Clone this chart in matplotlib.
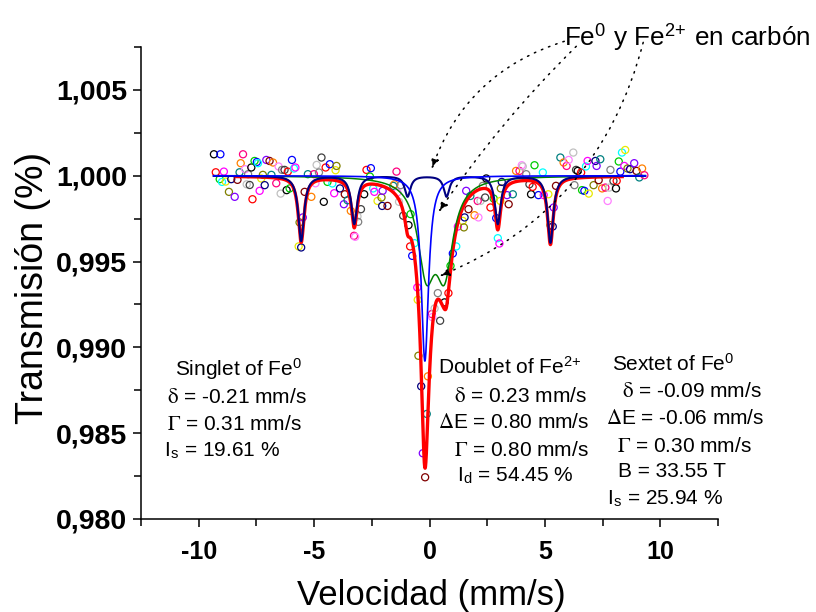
#!/usr/bin/env python3
"""Mossbauer spectrum of Fe in carbon: data points, sub-spectra and total fit."""

import matplotlib
matplotlib.use("Agg")
import matplotlib.pyplot as plt
import matplotlib.ticker as ticker
import numpy as np

plt.rcParams["font.family"] = ["Liberation Sans", "DejaVu Sans"]
plt.rcParams["mathtext.fontset"] = "stix"
plt.rcParams["axes.unicode_minus"] = False

# measured points (velocity in mm/s, relative transmission)
VELOCITY = [
    -9.34, -9.26, -9.09, -9.06, -8.99, -8.91, -8.83, -8.69, -8.59, -8.44,
    -8.32, -8.23, -8.18, -8.08, -7.99, -7.92, -7.86, -7.79, -7.72, -7.67,
    -7.58, -7.48, -7.43, -7.36, -7.29, -7.22, -7.14, -7.07, -6.93, -6.85,
    -6.78, -6.64, -6.54, -6.45, -6.39, -6.28, -6.19, -6.14, -6.06, -5.96,
    -5.87, -5.81, -5.67, -5.63, -5.56, -5.49, -5.41, -5.27, -5.12, -5.01,
    -4.94, -4.89, -4.79, -4.68, -4.58, -4.50, -4.42, -4.32, -4.21, -4.13,
    -4.07, -4.03, -3.88, -3.71, -3.67, -3.55, -3.41, -3.27, -3.22, -3.12,
    -3.09, -2.97, -2.83, -2.73, -2.58, -2.54, -2.44, -2.39, -2.25, -2.08,
    -2.05, -2.03, -1.82, -1.57, -1.52, -1.43, -1.39, -1.32, -1.25, -1.14,
    -0.91, -0.84, -0.82, -0.75, -0.65, -0.53, -0.51, -0.48, -0.36, -0.29,
    -0.19, -0.12, -0.07, 0.10, 0.12, 0.22, 0.36, 0.46, 0.65, 0.82,
    0.91, 1.01, 1.16, 1.23, 1.44, 1.49, 1.52, 1.59, 1.69, 1.77,
    1.95, 2.09, 2.12, 2.21, 2.31, 2.41, 2.46, 2.64, 2.78, 2.89,
    2.96, 3.03, 3.07, 3.09, 3.13, 3.36, 3.43, 3.61, 3.75, 3.90,
    4.00, 4.04, 4.19, 4.33, 4.40, 4.47, 4.55, 4.72, 4.91, 4.95,
    5.15, 5.24, 5.34, 5.38, 5.48, 5.67, 5.81, 5.94, 6.03, 6.23,
    6.28, 6.35, 6.42, 6.57, 6.61, 6.71, 6.78, 6.85, 6.90, 7.11,
    7.19, 7.24, 7.33, 7.40, 7.48, 7.62, 7.72, 7.79, 7.84, 7.97,
    8.08, 8.11, 8.20, 8.27, 8.34, 8.44, 8.48, 8.58, 8.69, 8.87,
    8.97, 9.09, 9.21, 9.31,
]
TRANSMISSION = [
    1.00125, 1.00020, 0.99980, 1.00125, 0.99964, 1.00024, 0.99966, 0.99906, 0.99980, 0.99877,
    0.99976, 1.00020, 1.00073, 1.00125, 1.00038, 0.99950, 1.00009, 0.99946, 1.00048, 0.99863,
    1.00086, 1.00080, 1.00073, 0.99912, 0.99984, 1.00005, 0.99945, 1.00092, 1.00086, 1.00005,
    1.00077, 0.99956, 1.00054, 0.99896, 1.00034, 1.00034, 0.99916, 1.00024, 0.99926, 1.00092,
    1.00042, 1.00048, 0.99588, 0.99728, 0.99582, 0.99757, 0.99906, 1.00009, 0.99877, 1.00009,
    0.99956, 1.00063, 1.00019, 1.00106, 0.99848, 1.00048, 0.99964, 1.00067, 0.99955, 0.99898,
    1.00032, 1.00057, 0.99926, 0.99834, 0.99892, 0.99857, 0.99795, 0.99650, 0.99644, 0.99763,
    0.99731, 0.99805, 0.99892, 1.00034, 0.99995, 1.00044, 0.99926, 0.99906, 0.99853, 0.99873,
    0.99824, 0.99912, 0.99824, 0.99941, 0.99950, 1.00024, 0.99902, 0.99848, 0.99945, 0.99767,
    0.99712, 0.99588, 0.99776, 0.99533, 0.99607, 0.99349, 0.99277, 0.98951, 0.98773, 0.98383,
    0.98243, 0.98612, 0.98831, 0.99194, 0.99176, 0.99227, 0.99316, 0.99155, 0.99262, 0.99316,
    0.99475, 0.99547, 0.99588, 0.99704, 0.99737, 0.99699, 0.99757, 0.99912, 0.99805, 0.99882,
    0.99770, 0.99853, 0.99757, 0.99853, 0.99941, 0.99873, 0.99984, 0.99815, 0.99867, 0.99753,
    0.99636, 0.99605, 0.99853, 0.99926, 0.99964, 0.99887, 0.99834, 0.99892, 1.00028, 1.00028,
    1.00061, 1.00054, 1.00009, 0.99950, 0.99892, 0.99935, 1.00061, 0.99887, 1.00019, 0.99887,
    0.99892, 0.99712, 0.99704, 0.99815, 0.99941, 1.00106, 1.00077, 1.00057, 1.00092, 1.00135,
    0.99945, 1.00034, 1.00028, 1.00019, 0.99916, 0.99912, 1.00054, 1.00086, 0.99896, 0.99945,
    1.00086, 1.00057, 0.99974, 1.00096, 0.99926, 0.99931, 0.99853, 0.99931, 1.00034, 0.99970,
    0.99926, 0.99970, 1.00083, 1.00024, 1.00135, 1.00057, 1.00150, 1.00042, 1.00038, 1.00073,
    1.00028, 0.99990, 1.00042, 1.00003,
]

# fitted sub-spectra: line centres (mm/s), depths, half widths
SEXTET_CENTRES = [-5.56, -3.26, -0.95, 0.74, 2.96, 5.24]
SEXTET_DEPTHS = [0.0038, 0.0028, 0.0012, 0.0012, 0.0028, 0.0039]
SEXTET_HWHM = 0.15
SINGLET_CENTRES = [-0.20]
SINGLET_DEPTHS = [0.0108]
SINGLET_HWHM = 0.19
DOUBLET_CENTRES = [-0.14, 0.65]
DOUBLET_DEPTHS = [0.0051, 0.0051]
DOUBLET_HWHM = 0.45
FIT_RANGE = (-9.35, 9.35)
TOTAL_RANGE = (-8.37, 8.35)

SINGLET_TEXT = [r"Singlet of Fe$^\mathregular{0}$",
                r"$\mathrm{\delta}$ = -0.21 mm/s",
                r"$\mathrm{\Gamma}$ = 0.31 mm/s",
                r"I$_\mathregular{s}$ = 19.61 %"]
DOUBLET_TEXT = [r"Doublet of Fe$^\mathregular{2{+}}$",
                r"$\mathrm{\delta}$ = 0.23 mm/s",
                r"$\mathrm{\Delta}$E = 0.80 mm/s",
                r"$\mathrm{\Gamma}$ = 0.80 mm/s",
                r"I$_\mathregular{d}$ = 54.45 %"]
SEXTET_TEXT = [r"Sextet of Fe$^\mathregular{0}$",
               r"$\mathrm{\delta}$ = -0.09 mm/s",
               r"$\mathrm{\Delta}$E = -0.06 mm/s",
               r"$\mathrm{\Gamma}$ = 0.30 mm/s",
               "B = 33.55 T",
               r"I$_\mathregular{s}$ = 25.94 %"]
HEADER_TEXT = r"Fe$^\mathregular{0}$ y Fe$^\mathregular{2{+}}$ en carbón"

# Origin-like point colour cycle
POINT_COLORS = ["#000000", "#FF0000", "#00CC00", "#0000FF", "#00FFFF", "#FF00FF",
                "#E8E800", "#808000", "#000080", "#8000FF", "#800000", "#008080",
                "#FF8000", "#FF0080", "#FF80FF", "#C0C0C0", "#808080", "#404040"]


def lorentz_dip(v, centres, depths, hwhm):
    dip = np.zeros_like(v)
    for c, d in zip(centres, depths):
        dip += d / (1.0 + ((v - c) / hwhm) ** 2)
    return dip


def main():
    fig = plt.figure(figsize=(8.16, 6.12), dpi=100)
    ax = fig.add_axes([0.1728, 0.152, 0.7071, 0.7712])

    colors = [POINT_COLORS[i % len(POINT_COLORS)] for i in range(len(VELOCITY))]
    ax.scatter(VELOCITY, TRANSMISSION, s=26, facecolors="none",
               edgecolors=colors, linewidths=0.9, zorder=1)

    v = np.linspace(FIT_RANGE[0], FIT_RANGE[1], 3000)
    sextet = lorentz_dip(v, SEXTET_CENTRES, SEXTET_DEPTHS, SEXTET_HWHM)
    singlet = lorentz_dip(v, SINGLET_CENTRES, SINGLET_DEPTHS, SINGLET_HWHM)
    doublet = lorentz_dip(v, DOUBLET_CENTRES, DOUBLET_DEPTHS, DOUBLET_HWHM)

    vt = np.linspace(TOTAL_RANGE[0], TOTAL_RANGE[1], 3000)
    total = (lorentz_dip(vt, SEXTET_CENTRES, SEXTET_DEPTHS, SEXTET_HWHM)
             + lorentz_dip(vt, SINGLET_CENTRES, SINGLET_DEPTHS, SINGLET_HWHM)
             + lorentz_dip(vt, DOUBLET_CENTRES, DOUBLET_DEPTHS, DOUBLET_HWHM))

    ax.plot(vt, 1 - total, color="#FF0000", lw=2.4, zorder=2)
    ax.plot(v, 1 - doublet, color="#008000", lw=1.1, zorder=3)
    ax.plot(v, 1 - sextet, color="#000080", lw=1.5, zorder=4)
    ax.plot(v, 1 - singlet, color="#0000FF", lw=1.2, zorder=5)

    # axes styling
    ax.set_xlim(-12.5, 12.5)
    ax.set_ylim(0.980, 1.0075)
    for side in ("top", "right"):
        ax.spines[side].set_visible(False)
    for side in ("left", "bottom"):
        ax.spines[side].set_linewidth(1.1)
    ax.xaxis.set_major_locator(ticker.MultipleLocator(5))
    ax.xaxis.set_minor_locator(ticker.MultipleLocator(2.5))
    ax.yaxis.set_major_locator(ticker.MultipleLocator(0.005))
    ax.yaxis.set_minor_locator(ticker.MultipleLocator(0.0025))
    ax.yaxis.set_major_formatter(ticker.FuncFormatter(lambda y, _: f"{y:.3f}".replace(".", ",")))
    ax.tick_params(which="both", direction="out", width=1.1)
    ax.tick_params(which="major", length=6)
    ax.tick_params(which="minor", length=5)
    ax.tick_params(axis="x", pad=9)
    ax.tick_params(axis="y", pad=4)
    for lab in ax.get_xticklabels():
        lab.set_fontweight("bold")
        lab.set_fontsize(18)
    for lab in ax.get_yticklabels():
        lab.set_fontweight("bold")
        lab.set_fontsize(20.5)

    ax.set_xlabel("Velocidad (mm/s)", fontsize=25)
    ax.set_ylabel("Transmisión (%)", fontsize=27)
    ax.xaxis.set_label_coords(0.504, -0.163)
    ax.xaxis.label.set_verticalalignment("center")
    ax.yaxis.set_label_coords(-0.187, 0.49)
    ax.yaxis.label.set_verticalalignment("center")

    # parameter blocks
    singlet_xy = [(-11.04, 0.98833), (-11.39, 0.98676), (-11.39, 0.98519), (-11.52, 0.98367)]
    doublet_xy = [(0.35, 0.98845), (1.08, 0.98682), (0.35, 0.98530), (1.08, 0.98367), (1.17, 0.98222)]
    sextet_xy = [(7.92, 0.98862), (8.35, 0.98711), (7.66, 0.98554), (8.14, 0.98391),
                 (8.18, 0.98245), (7.71, 0.98088)]
    for texts, pos in ((SINGLET_TEXT, singlet_xy), (DOUBLET_TEXT, doublet_xy), (SEXTET_TEXT, sextet_xy)):
        for s, (x, y) in zip(texts, pos):
            ax.text(x, y, s, fontsize=15, ha="left", va="baseline", zorder=6)

    # label with dotted arrows
    ax.text(5.84, 1.00758, HEADER_TEXT, fontsize=18.8, ha="left", va="baseline", clip_on=False)
    arrows = [((5.84, 1.00783), (0.09, 1.00038), 0.25),
              ((6.36, 1.00754), (0.39, 0.99788), 0.05),
              ((9.26, 1.00777), (0.43, 0.99415), -0.25)]
    for start, tip, rad in arrows:
        ax.annotate("", xy=tip, xytext=start, annotation_clip=False,
                    arrowprops=dict(arrowstyle="-|>,head_length=0.6,head_width=0.22",
                                    linestyle=(0, (1, 4)), color="black", lw=1.1,
                                    shrinkA=0, shrinkB=0, mutation_scale=10,
                                    connectionstyle=f"arc3,rad={rad}"),
                    zorder=7)

    fig.savefig("out.png", dpi=100)


if __name__ == "__main__":
    main()
